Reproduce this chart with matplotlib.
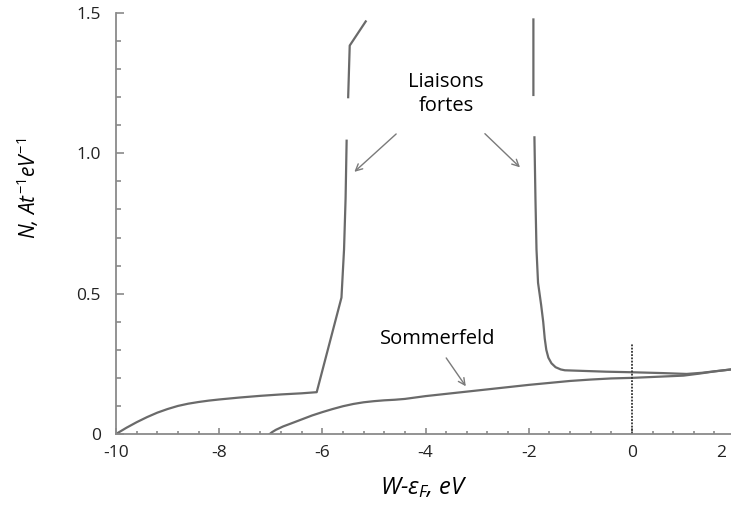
import numpy as np
import matplotlib
matplotlib.use("Agg")
import matplotlib.pyplot as plt
from matplotlib.ticker import MultipleLocator

plt.rcParams['font.family'] = ['Open Sans', 'DejaVu Sans']
plt.rcParams['mathtext.fontset'] = 'custom'
plt.rcParams['mathtext.rm'] = 'Open Sans'
plt.rcParams['mathtext.it'] = 'Open Sans:italic'

nan = np.nan
# "Liaisons fortes" density of states (broken at the top where it leaves the frame)
lf_x = [-10, -9.8, -9.6, -9.4, -9.2, -9.0, -8.8, -8.6, -8.4, -8.2, -8.0, -7.6, -7.2,
        -6.8, -6.4, -6.11, -5.63, -5.58, -5.55, -5.53,
        nan, -5.50, -5.47, -5.16,
        nan, -1.91, -1.91,
        nan, -1.89, -1.87, -1.85, -1.82, -1.76, -1.72, -1.69, -1.66, -1.62, -1.56, -1.48,
        -1.38, -1.30, -0.5, 0.0, 0.6, 1.06, 1.35, 1.92]
lf_y = [0, 0.022, 0.042, 0.06, 0.076, 0.089, 0.1, 0.108, 0.114, 0.119, 0.123, 0.13, 0.136,
        0.141, 0.145, 0.149, 0.486, 0.658, 0.84, 1.045,
        nan, 1.20, 1.384, 1.47,
        nan, 1.477, 1.208,
        nan, 1.057, 0.837, 0.658, 0.539, 0.46, 0.40, 0.34, 0.30, 0.272, 0.252, 0.238,
        0.23, 0.227, 0.222, 0.22, 0.217, 0.214, 0.218, 0.23]

# Sommerfeld (free electron) density of states
som_x = [-7.02, -6.98, -6.9, -6.76, -6.6, -6.4, -6.2, -6.0, -5.8, -5.6, -5.4, -5.2, -5.0,
         -4.8, -4.6, -4.4, -4.2, -4.0, -3.6, -3.2, -2.8, -2.4, -2.0, -1.6, -1.2, -0.8,
         -0.4, 0.0, 0.5, 1.0, 1.3, 1.6, 1.92]
som_y = [0, 0.006, 0.015, 0.027, 0.038, 0.052, 0.066, 0.078, 0.089, 0.099, 0.107, 0.113,
         0.117, 0.12, 0.122, 0.125, 0.13, 0.135, 0.143, 0.151, 0.159, 0.167, 0.175, 0.182,
         0.189, 0.194, 0.198, 0.2, 0.204, 0.208, 0.215, 0.223, 0.23]

fermi_x = 0.0
fermi_top = 0.325

x_ticks = [-10, -8, -6, -4, -2, 0]
y_ticks = [0, 0.5, 1.0, 1.5]
y_tick_labels = ['0', '0.5', '1.0', '1.5']

fig = plt.figure(figsize=(7.31, 5.12), dpi=100)
ax = fig.add_axes([116/731, 78/512, 615/731, 421/512])

line_col = '#6a6a6a'
ax.plot(lf_x, lf_y, color=line_col, lw=1.6, solid_joinstyle='round')
ax.plot(som_x, som_y, color=line_col, lw=1.6, solid_joinstyle='round')
ax.plot([fermi_x, fermi_x], [0, fermi_top], color='#333333', lw=1.3, ls=(0, (1, 0.8)))

ax.set_xlim(-10, 1.92)
ax.set_ylim(0, 1.5)

for s in ['top', 'right']:
    ax.spines[s].set_visible(False)
for s in ['left', 'bottom']:
    ax.spines[s].set_color('#8a8a8a')
    ax.spines[s].set_linewidth(1.3)

ax.set_xticks(x_ticks)
ax.set_xticklabels([str(t) for t in x_ticks])
ax.xaxis.set_minor_locator(MultipleLocator(0.4))
ax.set_yticks(y_ticks)
ax.set_yticklabels(y_tick_labels)
ax.yaxis.set_minor_locator(MultipleLocator(0.1))

ax.tick_params(axis='both', which='both', direction='in', color='#8a8a8a', width=1.2,
               labelsize=12.5, labelcolor='#222222')
ax.tick_params(axis='y', which='major', length=5.5, pad=11)
ax.tick_params(axis='y', which='minor', length=3.5)
ax.tick_params(axis='x', which='major', length=4, pad=8)
ax.tick_params(axis='x', which='minor', length=2.5)

# last x tick label "2" sits at the very edge of the picture
ax.annotate('2', xy=(2, 0), xycoords='data', xytext=(-10, -8), textcoords='offset points',
            ha='center', va='top', fontsize=12.5, color='#222222', annotation_clip=False)

ax.set_xlabel(r'$W$-$\varepsilon_F$, $eV$', fontsize=17, style='italic', labelpad=10)
ax.set_ylabel(r'$N$, $At^{-1}eV^{-1}$', fontsize=15, style='italic')
ax.yaxis.set_label_coords(-0.122, 0.584)

arrow_kw = dict(arrowstyle='->', color='#7a7a7a', lw=1.0, shrinkA=0, shrinkB=0,
                mutation_scale=12)
ax.text(-3.6, 1.212, 'Liaisons\nfortes', ha='center', va='center', fontsize=14.5,
        linespacing=1.25, color='black')
ax.annotate('', xy=(-5.38, 0.934), xytext=(-4.57, 1.069), arrowprops=arrow_kw)
ax.annotate('', xy=(-2.17, 0.95), xytext=(-2.85, 1.07), arrowprops=arrow_kw)

ax.text(-3.76, 0.34, 'Sommerfeld', ha='center', va='center', fontsize=14.5, color='black')
ax.annotate('', xy=(-3.22, 0.17), xytext=(-3.60, 0.271), arrowprops=arrow_kw)

fig.savefig('out.png', dpi=100)
